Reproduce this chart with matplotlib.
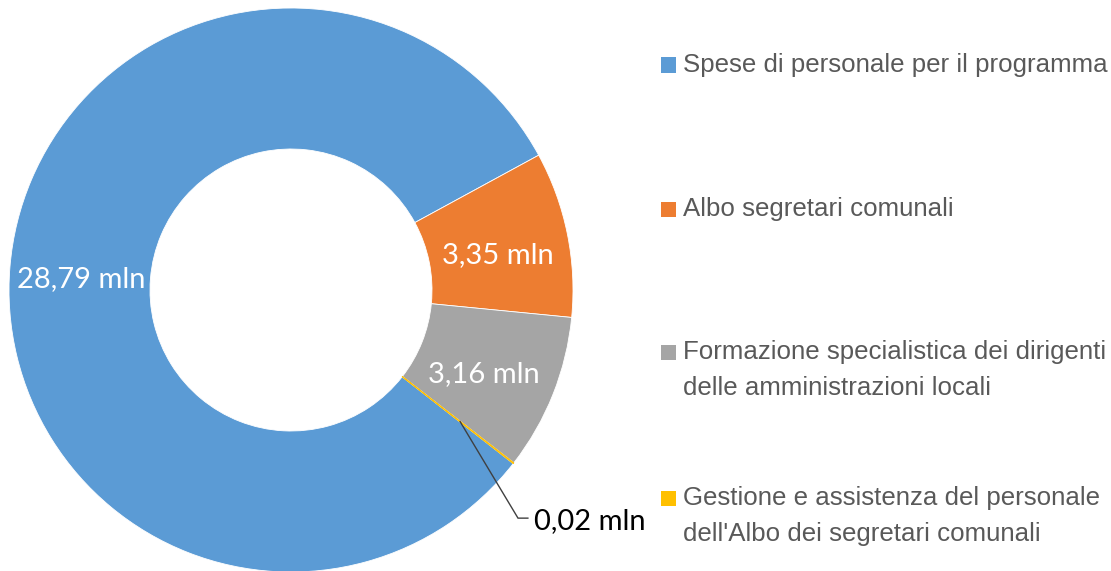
import matplotlib
matplotlib.use("Agg")
import matplotlib.pyplot as plt
from matplotlib.patches import Rectangle
import numpy as np

# data
categories = [
    "Spese di personale per il programma",
    "Albo segretari comunali",
    "Formazione specialistica dei dirigenti\ndelle amministrazioni locali",
    "Gestione e assistenza del personale\ndell'Albo dei segretari comunali",
]
values = [28.79, 3.35, 3.16, 0.02]
colors = ["#5B9BD5", "#ED7D31", "#A5A5A5", "#FFC000"]

W, H = 1111, 571
DPI = 100

legend_font = "Liberation Sans"
label_font = "Lato"


def fmt(v):
    return f"{v:.2f}".replace(".", ",") + " mln"


def main():
    fig = plt.figure(figsize=(W / DPI, H / DPI), dpi=DPI)
    cx, cy, r = 291, 290, 282
    ax = fig.add_axes([(cx - r) / W, (H - cy - r) / H, 2 * r / W, 2 * r / H])
    wedges, _ = ax.pie(values, colors=colors, startangle=322, counterclock=False,
                       radius=1.0, wedgeprops=dict(width=0.5, linewidth=0.6, edgecolor="white"))
    wedges[3].set_edgecolor(colors[3])
    ax.set_xlim(-1, 1)
    ax.set_ylim(-1, 1)
    ax.set_aspect("equal")
    ax.axis("off")

    # data labels inside the ring
    mids = [np.deg2rad((w.theta1 + w.theta2) / 2) for w in wedges]
    label_angles = [np.deg2rad(177), mids[1] - np.deg2rad(2), mids[2] - np.deg2rad(2)]
    for i in range(3):
        a = label_angles[i]
        ax.text(0.745 * np.cos(a), 0.745 * np.sin(a), fmt(values[i]), color="white",
                fontsize=21, family=label_font, ha="center", va="center")

    # small slice: leader line + outside label
    a = mids[3]
    x0, y0 = 0.76 * np.cos(a), 0.76 * np.sin(a)
    ax.plot([x0, 0.805, 0.84], [y0, -0.809, -0.809], color="#404040", lw=1.0,
            clip_on=False, solid_joinstyle="miter")
    ax.text(0.86, -0.82, fmt(values[3]), color="black", fontsize=21,
            family=label_font, ha="left", va="center", clip_on=False)

    # legend drawn by hand so markers align with the first text line
    rows_y = [65, 209, 352, 498]
    line_gap = 36
    for cat, col, y in zip(categories, colors, rows_y):
        fig.patches.append(Rectangle((661 / W, (H - y - 7.5) / H), 15 / W, 15 / H,
                                     transform=fig.transFigure, facecolor=col,
                                     edgecolor="none"))
        n = cat.count("\n")
        ty = y + n * line_gap / 2
        fig.text(683 / W, (H - ty) / H, cat, color="#595959", fontsize=18.6,
                 family=legend_font, ha="left", va="center", linespacing=1.62)

    fig.savefig("out.png", dpi=DPI)
    plt.close(fig)


if __name__ == "__main__":
    main()
